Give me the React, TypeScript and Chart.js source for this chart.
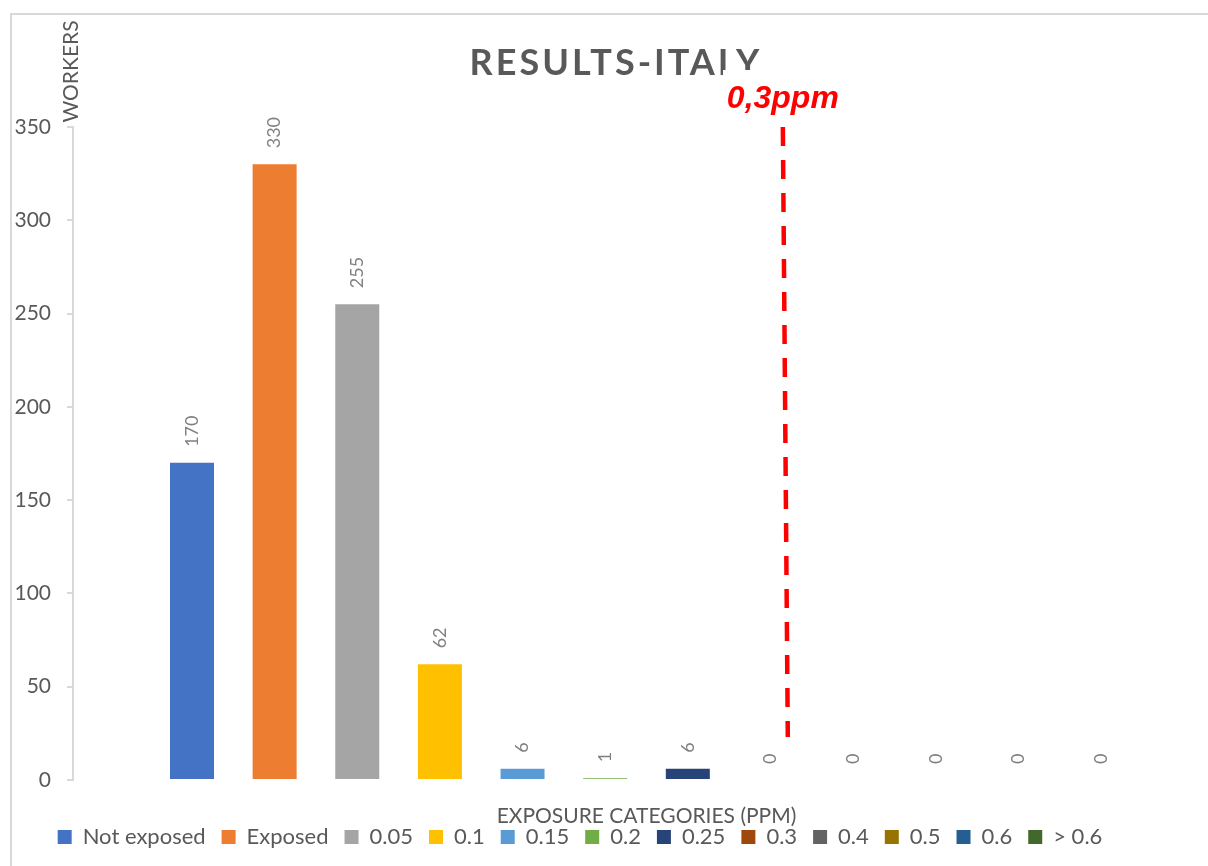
import React, { useEffect, useRef } from 'react';
import { Chart, registerables } from 'chart.js';

Chart.register(...registerables);

// ---- data ----
const CATEGORIES = ['Not exposed', 'Exposed', '0.05', '0.1', '0.15', '0.2', '0.25', '0.3', '0.4', '0.5', '0.6', '> 0.6'];
const WORKERS = [170, 330, 255, 62, 6, 1, 6, 0, 0, 0, 0, 0];
const COLORS = ['#4472C4', '#ED7D31', '#A5A5A5', '#FFC000', '#5B9BD5', '#70AD47', '#264478', '#9E480E', '#636363', '#997300', '#255E91', '#43682B'];
const Y_TICKS = [0, 50, 100, 150, 200, 250, 300, 350];
const TITLE = 'RESULTS-ITALY';
const Y_TITLE = 'WORKERS';
const X_TITLE = 'EXPOSURE CATEGORIES (PPM)';
const THRESHOLD_LABEL = '0,3ppm';
const THRESHOLD_X = [8.15, 8.21]; // top, bottom (category index units)
const THRESHOLD_Y = [350, 23]; // top, bottom (workers)
const X_RANGE = [-0.44, 12.593];

const FONT = 'Lato, "Open Sans", sans-serif';
const TEXT = '#595959';

const decorPlugin = {
  id: 'decor',
  beforeDraw(chart: any) {
    const { ctx, width, height } = chart;
    ctx.save();
    ctx.fillStyle = '#ffffff';
    ctx.fillRect(0, 0, width, height);
    ctx.strokeStyle = '#d9d9d9';
    ctx.lineWidth = 2;
    ctx.beginPath();
    ctx.moveTo(11, height);
    ctx.lineTo(11, 14);
    ctx.lineTo(width, 14);
    ctx.stroke();
    ctx.restore();
  },
  afterDraw(chart: any) {
    const { ctx, chartArea, scales } = chart;
    const xs = scales.x;
    const ys = scales.y;
    ctx.save();
    // title
    ctx.fillStyle = TEXT;
    ctx.font = `bold 36px ${FONT}`;
    (ctx as any).letterSpacing = '3px';
    ctx.textAlign = 'center';
    ctx.textBaseline = 'alphabetic';
    ctx.fillText(TITLE, 616, 74.5);
    (ctx as any).letterSpacing = '0px';
    // white text box of the threshold label (covers part of the title)
    ctx.fillStyle = '#ffffff';
    ctx.fillRect(723, 70, 125, 54);
    // y title
    ctx.save();
    ctx.fillStyle = TEXT;
    ctx.font = `21px ${FONT}`;
    ctx.translate(71, 122.5);
    ctx.rotate(-Math.PI / 2);
    ctx.textAlign = 'left';
    ctx.textBaseline = 'middle';
    ctx.fillText(Y_TITLE, 0, 0);
    ctx.restore();
    // x title
    ctx.fillStyle = TEXT;
    ctx.font = `21px ${FONT}`;
    ctx.textAlign = 'center';
    ctx.textBaseline = 'alphabetic';
    const cx = (xs.getPixelForValue(1) + xs.getPixelForValue(CATEGORIES.length)) / 2;
    ctx.fillText(X_TITLE, cx, chartArea.bottom + 42.5);
    // threshold line
    const x1 = xs.getPixelForValue(THRESHOLD_X[0]);
    const y1 = ys.getPixelForValue(THRESHOLD_Y[0]);
    const x2 = xs.getPixelForValue(THRESHOLD_X[1]);
    const y2 = ys.getPixelForValue(THRESHOLD_Y[1]);
    ctx.strokeStyle = '#ff0000';
    ctx.lineWidth = 4.5;
    ctx.setLineDash([19, 14]);
    ctx.beginPath();
    ctx.moveTo(x1, y1);
    ctx.lineTo(x2, y2);
    ctx.stroke();
    ctx.setLineDash([]);
    ctx.fillStyle = '#ff0000';
    ctx.font = 'italic bold 32px "Liberation Sans", Arial, sans-serif';
    ctx.textAlign = 'center';
    ctx.textBaseline = 'alphabetic';
    ctx.fillText(THRESHOLD_LABEL, x1, y1 - 19);
    ctx.restore();
  },
  afterDatasetsDraw(chart: any) {
    const { ctx } = chart;
    ctx.save();
    ctx.fillStyle = '#808080';
    ctx.font = `18px ${FONT}`;
    chart.data.datasets.forEach((ds: any, i: number) => {
      const meta = chart.getDatasetMeta(i);
      const el = meta.data[0];
      if (!el) return;
      ctx.save();
      ctx.translate(el.x, el.y - 16);
      ctx.rotate(-Math.PI / 2);
      ctx.textAlign = 'left';
      ctx.textBaseline = 'middle';
      ctx.fillText(String(ds.data[0].y), 0, 0);
      ctx.restore();
    });
    ctx.restore();
  },
};

export default function App() {
  const ref = useRef<HTMLCanvasElement | null>(null);
  useEffect(() => {
    if (!ref.current) return;
    const datasets = CATEGORIES.map((name, i) => ({
      label: name,
      data: [{ x: i + 1, y: WORKERS[i] }],
      backgroundColor: COLORS[i],
      borderWidth: 0,
      inflateAmount: 0,
      barThickness: 44,
      grouped: false,
    }));
    const chart = new Chart(ref.current, {
      type: 'bar',
      data: { datasets },
      options: {
        animation: false,
        responsive: false,
        layout: { padding: { left: 10, right: 58, top: 127, bottom: 8 } },
        plugins: {
          tooltip: { enabled: false },
          title: { display: false },
          legend: {
            position: 'bottom',
            labels: {
              color: TEXT,
              font: { family: FONT, size: 22 },
              boxWidth: 14,
              boxHeight: 14,
              padding: 16,
            },
          },
        },
        scales: {
          x: {
            type: 'linear',
            offset: false,
            min: X_RANGE[0],
            max: X_RANGE[1],
            grid: { display: false },
            border: { display: false },
            ticks: { display: false },
            afterFit: (s: any) => { s.height = 30; },
          },
          y: {
            min: 0,
            max: 350,
            afterBuildTicks: (s: any) => { s.ticks = Y_TICKS.map((v) => ({ value: v })); },
            ticks: { color: TEXT, font: { family: FONT, size: 21 }, padding: 16 },
            grid: { display: true, drawOnChartArea: false, drawTicks: true, tickLength: 6, color: '#d9d9d9', lineWidth: 2 },
            border: { display: true, color: '#d9d9d9', width: 2 },
            afterFit: (s: any) => { s.width = 63; },
          },
        },
      } as any,
      plugins: [decorPlugin],
    });
    return () => chart.destroy();
  }, []);
  return (
    <div style={{ position: 'absolute', left: 0, top: 0, width: 1208, height: 866, overflow: 'hidden' }}>
      <canvas ref={ref} width={1208} height={866} style={{ display: 'block' }} />
    </div>
  );
}
